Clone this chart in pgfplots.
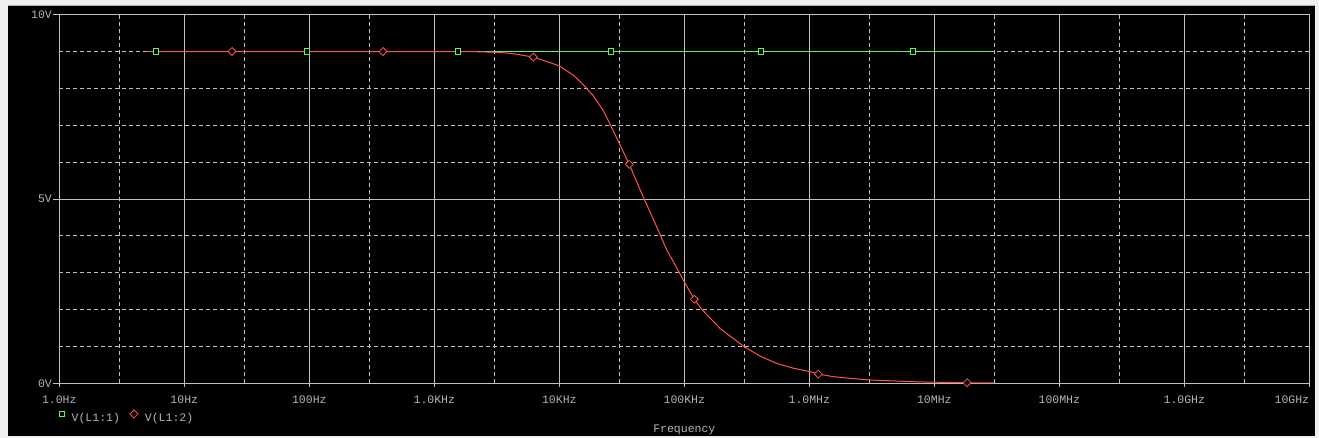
\documentclass[border=0pt]{standalone}
\usepackage{fontspec}
\setmonofont{Liberation Mono}
\usepackage{pgfplots}
\pgfplotsset{compat=1.18}
\definecolor{gridc}{RGB}{192,192,192}
\definecolor{txt}{RGB}{172,182,188}
\definecolor{grn}{RGB}{100,245,90}
\definecolor{rd}{RGB}{255,82,82}
\definecolor{framec}{RGB}{240,240,240}
\newcommand\lf{\ttfamily\fontsize{11.5}{12}\selectfont}
\begin{document}
\begin{tikzpicture}[x=1pt,y=1pt]
\path[use as bounding box] (-59.3,-54.7) rectangle (1259.7,383.3);
\fill[framec] (-59.3,-54.7) rectangle (1259.7,383.3);
\fill[black] (-51.3,-52.7) rectangle (1255.7,377.6);
\draw[gray!60, line width=1pt] (-51.3,378.1) -- (1255.7,378.1);
\begin{axis}[
  at={(0,0)}, anchor=south west, scale only axis,
  width=1250pt, height=368.6pt,
  xmode=log, log basis x=10,
  xmin=1, xmax=1e10, ymin=0, ymax=10,
  xtick={1,10,100,1000,1e4,1e5,1e6,1e7,1e8,1e9,1e10},
  xticklabels={1.0Hz,10Hz,100Hz,1.0KHz,10KHz,100KHz,1.0MHz,10MHz,100MHz,1.0GHz,},
  minor xtick={3,30,300,3000,3e4,3e5,3e6,3e7,3e8,3e9},
  ytick={0,5,10}, yticklabels={0V,5V,10V},
  minor ytick={1,2,3,4,6,7,8,9},
  grid=both,
  major grid style={gridc, line width=0.8pt},
  minor grid style={gridc, line width=0.8pt, dash pattern=on 4pt off 3pt},
  axis line style={gridc, line width=0.8pt},
  tick style={gridc, line width=0.8pt},
  minor tick length=0pt,
  tick align=outside, tick pos=left,
  xtick style={/pgfplots/major tick length=3.5pt},
  ytick style={/pgfplots/major tick length=6pt},
  tick label style={font=\lf, text=txt, inner sep=0pt},
  xticklabel style={anchor=base, yshift=-16.3pt},
  yticklabel style={anchor=east, xshift=-3pt},
  xlabel={Frequency},
  xlabel style={at={(axis description cs:0.5,0)}, anchor=base, yshift=-49.5pt, font=\lf, text=txt, inner sep=0pt},
  legend style={draw=none, fill=none, inner sep=0pt, at={(axis description cs:0,0)}, anchor=north west, xshift=0pt, yshift=-26.5pt, font=\lf, text=txt, legend columns=-1, nodes={inner sep=0pt},
    /tikz/every odd column/.append style={column sep=7pt},
    /tikz/every even column/.append style={column sep=10pt}},
  legend image code/.code={\path[#1] plot coordinates {(3pt,4pt)};},
]
\addplot[grn, line width=1pt, forget plot] coordinates {(5,9) (3e7,9)};
\addplot[rd, line width=1pt, forget plot] coordinates {
(5,9.00) (1930,9.00) (3120,8.98) (4110,8.95) (4680,8.92) (5490,8.88) (6195,8.85)
(8430,8.70) (10000,8.61) (12940,8.36) (15560,8.10) (18700,7.80) (22490,7.40)
(25450,7.03) (30200,6.51) (36300,5.94) (47000,5.05) (60100,4.25) (72300,3.62)
(81700,3.30) (100000,2.75) (120200,2.28) (137800,2.01) (193000,1.49) (302000,0.99)
(403000,0.74) (548000,0.54) (745000,0.41) (1e6,0.32) (1.18e6,0.25) (1.556e6,0.18)
(2.545e6,0.11) (3.06e6,0.09) (7.23e6,0.04) (1e7,0.03) (1.83e7,0.015) (3e7,0.01)};
\addplot[only marks, grn, mark=square*, mark size=2.6pt, mark options={fill=black, draw=grn, line width=1pt}] coordinates {
(5.97,9) (96.4,9) (1556,9) (25900,9) (411000,9) (6.79e6,9)};
\addlegendentry{V(L1:1)}
\addplot[only marks, rd, mark=square*, mark size=2.8pt, mark options={rotate=45, fill=black, draw=rd, line width=0.8pt}] coordinates {
(24.1,9) (389,9) (6195,8.85) (36300,5.94) (120200,2.28) (1.18e6,0.25) (1.83e7,0.015)};
\addlegendentry{V(L1:2)}
\end{axis}
\node[font=\lf, text=txt, anchor=base east, inner sep=0pt] at (1250,-19.8) {10GHz};
\end{tikzpicture}
\end{document}
